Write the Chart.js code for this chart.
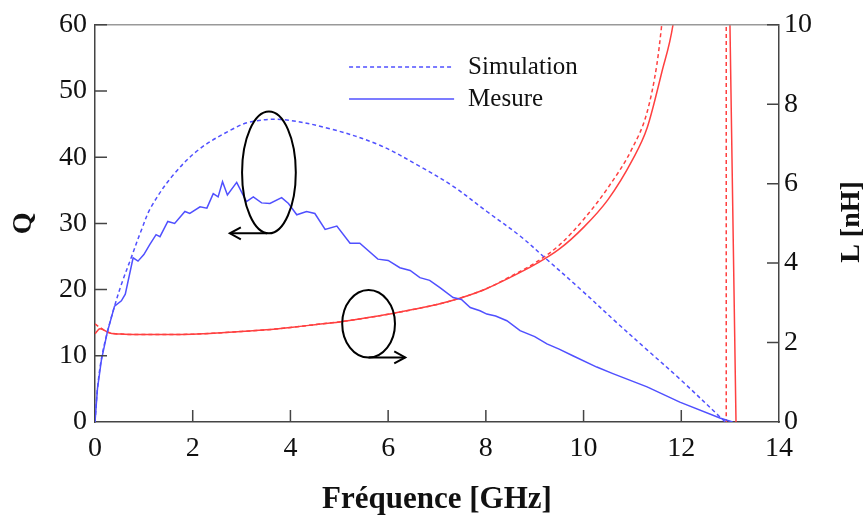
<!DOCTYPE html>
<html>
<head>
<meta charset="utf-8">
<script src="https://cdn.jsdelivr.net/npm/chart.js@4.4.1/dist/chart.umd.min.js"></script>
<style>
  html, body { margin: 0; padding: 0; background: #fff; }
  #wrap { width: 867px; height: 519px; }
</style>
</head>
<body>
<div id="wrap"><canvas id="c" width="867" height="519"></canvas></div>
<script>
// ---- Data ----
const freqSimQ = [0, 0.05, 0.13, 0.25, 0.4, 0.55, 0.74, 0.95, 1.15, 1.6, 2.15, 2.83, 3.17, 3.8, 4.81, 5.83, 6.65, 7.33, 8.02, 8.7, 9.21, 9.93, 10.68, 11.3, 11.97, 12.9];
const qSim     = [0, 5, 9.5, 13.5, 17.5, 21, 24.8, 29, 32.5, 37.3, 41.3, 44.3, 45.3, 45.7, 44.3, 41.8, 38.6, 35.6, 31.8, 28.1, 24.8, 20.1, 15.0, 10.9, 6.5, 0];

const freqMesQ = [0, 0.05, 0.13, 0.25, 0.4, 0.54, 0.62, 0.78, 0.88, 1.0, 1.12, 1.25, 1.33, 1.49, 1.63, 1.84, 1.94, 2.15, 2.29, 2.42, 2.52, 2.61, 2.71, 2.9, 3.1, 3.24, 3.41, 3.58, 3.82, 3.96, 4.13, 4.33, 4.5, 4.71, 4.95, 5.22, 5.42, 5.79, 6.0, 6.24, 6.45, 6.65, 6.85, 7.06, 7.33, 7.5, 7.68, 7.88, 8.02, 8.2, 8.43, 8.7, 9.0, 9.25, 9.5, 9.78, 10.27, 10.6, 11.3, 11.97, 12.79, 13.05];
const qMes     = [0, 5, 9.3, 13.5, 17.5, 18.3, 19.3, 24.8, 24.3, 25.3, 26.8, 28.3, 28.0, 30.3, 30.0, 31.8, 31.5, 32.5, 32.3, 34.5, 34.0, 36.3, 34.3, 36.2, 33.3, 34.0, 33.1, 33.0, 33.9, 33.0, 31.3, 31.8, 31.5, 29.1, 29.6, 27.0, 27.0, 24.6, 24.4, 23.3, 22.9, 21.8, 21.4, 20.3, 18.8, 18.5, 17.3, 16.8, 16.3, 16.0, 15.3, 13.8, 12.9, 11.8, 11.0, 10.0, 8.3, 7.3, 5.3, 3.0, 0.6, 0];

const freqSimL = [0, 0.1, 0.3, 0.6, 1, 1.5, 2, 2.5, 3, 3.5, 4, 4.5, 5, 5.5, 6, 6.5, 7, 7.5, 8, 8.5, 9, 9.5, 10, 10.5, 11, 11.3, 11.5, 11.6, 11.7, 12.3, 12.92, 12.92];
const lSim     = [2.47, 2.38, 2.25, 2.21, 2.2, 2.2, 2.21, 2.24, 2.28, 2.32, 2.38, 2.45, 2.52, 2.61, 2.71, 2.83, 2.96, 3.13, 3.35, 3.66, 4.0, 4.45, 5.1, 5.9, 6.9, 7.8, 9.0, 10.0, 11.2, null, 11, 0];

const freqMesL = [0, 0.1, 0.3, 0.6, 1, 1.5, 2, 2.5, 3, 3.5, 4, 4.5, 5, 5.5, 6, 6.5, 7, 7.5, 8, 8.5, 9, 9.5, 10, 10.5, 11, 11.3, 11.6, 11.83, 11.95, 12.4, 12.99, 13.12];
const lMes     = [2.22, 2.35, 2.24, 2.21, 2.2, 2.2, 2.21, 2.24, 2.28, 2.32, 2.38, 2.45, 2.52, 2.61, 2.71, 2.83, 2.96, 3.13, 3.35, 3.64, 3.96, 4.35, 4.9, 5.6, 6.6, 7.4, 8.8, 10.0, 11.2, null, 10.5, 0];

const xTicks  = [0, 2, 4, 6, 8, 10, 12, 14];
const qTicks  = [0, 10, 20, 30, 40, 50, 60];
const lTicks  = [0, 2, 4, 6, 8, 10];

const legendLabels = ['Simulation', 'Mesure'];
const xTitle = 'Fréquence [GHz]';
const qTitle = 'Q';
const lTitle = 'L [nH]';

const BLUE = '#5050ff';
const RED = '#ff4040';
const SERIF = '"Liberation Serif", "Times New Roman", serif';

const pts = (xs, ys) => xs.map((x, i) => ({ x: x, y: ys[i] }));

const decor = {
  id: 'decor',
  afterDraw(chart) {
    const { ctx, chartArea: ca, scales } = chart;
    const xs = scales.x, yq = scales.y, yl = scales.y1;
    ctx.save();
    // top frame
    ctx.strokeStyle = '#999';
    ctx.lineWidth = 1.5;
    ctx.beginPath(); ctx.moveTo(ca.left, ca.top); ctx.lineTo(ca.right, ca.top); ctx.stroke();
    // inward ticks
    ctx.strokeStyle = '#444';
    ctx.lineWidth = 1.5;
    ctx.beginPath();
    qTicks.forEach(v => { const y = yq.getPixelForValue(v); if (v > 0) { ctx.moveTo(ca.left, y); ctx.lineTo(ca.left + 12, y); } });
    lTicks.forEach(v => { const y = yl.getPixelForValue(v); if (v > 0) { ctx.moveTo(ca.right, y); ctx.lineTo(ca.right - 12, y); } });
    xTicks.forEach(v => { const x = xs.getPixelForValue(v); if (v > 0 && v < 14) { ctx.moveTo(x, ca.bottom); ctx.lineTo(x, ca.bottom - 12); } });
    ctx.stroke();

    // legend
    const lx0 = xs.getPixelForValue(5.2), lx1 = xs.getPixelForValue(7.35);
    const ly = [67, 99];
    ctx.strokeStyle = BLUE; ctx.lineWidth = 1.5;
    ctx.setLineDash([4, 3]);
    ctx.beginPath(); ctx.moveTo(lx0, ly[0]); ctx.lineTo(lx1, ly[0]); ctx.stroke();
    ctx.setLineDash([]);
    ctx.beginPath(); ctx.moveTo(lx0, ly[1]); ctx.lineTo(lx1, ly[1]); ctx.stroke();
    ctx.fillStyle = '#111';
    ctx.font = '25px ' + SERIF;
    ctx.textAlign = 'left'; ctx.textBaseline = 'middle';
    ctx.fillText(legendLabels[0], lx1 + 14, ly[0]);
    ctx.fillText(legendLabels[1], lx1 + 14, ly[1]);

    // annotation ellipses + arrows
    ctx.strokeStyle = '#000'; ctx.lineWidth = 2;
    function ellipse(cx, cy, rx, ry) {
      ctx.beginPath(); ctx.ellipse(cx, cy, rx, ry, 0, 0, Math.PI * 2); ctx.stroke();
    }
    function arrow(x0, y0, x1, y1) {
      ctx.beginPath(); ctx.moveTo(x0, y0); ctx.lineTo(x1, y1); ctx.stroke();
      const d = Math.sign(x1 - x0);
      ctx.beginPath(); ctx.moveTo(x1 - d * 11, y1 - 6); ctx.lineTo(x1, y1); ctx.lineTo(x1 - d * 11, y1 + 6); ctx.stroke();
    }
    const e1x = xs.getPixelForValue(3.56), e1y = yq.getPixelForValue(37.7);
    const e1rx = xs.getPixelForValue(3.56 + 0.55) - e1x, e1ry = e1y - yq.getPixelForValue(37.7 + 9.2);
    ellipse(e1x, e1y, e1rx, e1ry);
    arrow(e1x - 2, e1y + e1ry, xs.getPixelForValue(2.76), e1y + e1ry);
    const e2x = xs.getPixelForValue(5.6), e2y = yl.getPixelForValue(2.475);
    const e2rx = xs.getPixelForValue(5.6 + 0.54) - e2x, e2ry = e2y - yl.getPixelForValue(2.475 + 0.85);
    ellipse(e2x, e2y, e2rx, e2ry);
    arrow(e2x, e2y + e2ry, xs.getPixelForValue(6.35), e2y + e2ry);

    // right axis title (reads bottom-to-top)
    ctx.fillStyle = '#111';
    ctx.font = 'bold 28px ' + SERIF;
    ctx.textAlign = 'center'; ctx.textBaseline = 'middle';
    ctx.translate(852, 222);
    ctx.rotate(-Math.PI / 2);
    ctx.fillText(lTitle, 0, 0);
    ctx.restore();
  }
};

new Chart(document.getElementById('c'), {
  type: 'line',
  data: {
    datasets: [
      { label: legendLabels[0], data: pts(freqSimQ, qSim), yAxisID: 'y', borderColor: BLUE, borderWidth: 1.5, borderDash: [4, 3], tension: 0.35, pointRadius: 0, fill: false },
      { label: legendLabels[1], data: pts(freqMesQ, qMes), yAxisID: 'y', borderColor: BLUE, borderWidth: 1.5, tension: 0, pointRadius: 0, fill: false },
      { label: 'L sim', data: pts(freqSimL, lSim), yAxisID: 'y1', borderColor: RED, borderWidth: 1.5, borderDash: [4, 3], cubicInterpolationMode: 'monotone', pointRadius: 0, fill: false, spanGaps: false },
      { label: 'L mes', data: pts(freqMesL, lMes), yAxisID: 'y1', borderColor: RED, borderWidth: 1.5, cubicInterpolationMode: 'monotone', pointRadius: 0, fill: false, spanGaps: false }
    ]
  },
  options: {
    responsive: false,
    animation: false,
    layout: { padding: { top: 22, left: 0, right: 0, bottom: 0 } },
    plugins: { legend: { display: false }, tooltip: { enabled: false } },
    scales: {
      x: {
        type: 'linear', min: 0, max: 14,
        afterBuildTicks: s => { s.ticks = xTicks.map(v => ({ value: v })); },
        afterFit: s => { s.height = 97; },
        grid: { display: false, drawTicks: false },
        border: { display: true, color: '#444', width: 1.5 },
        ticks: { padding: 10, color: '#111', font: { family: SERIF, size: 28 }, autoSkip: false, maxRotation: 0 },
        title: { display: true, text: xTitle, color: '#111', font: { family: SERIF, size: 31, weight: 'bold' }, padding: { top: 0, bottom: 0 } }
      },
      y: {
        type: 'linear', position: 'left', min: 0, max: 60,
        afterBuildTicks: s => { s.ticks = qTicks.map(v => ({ value: v })); },
        afterFit: s => { s.width = 95; },
        grid: { display: false, drawTicks: false },
        border: { display: true, color: '#444', width: 1.5 },
        ticks: { padding: 8, color: '#111', font: { family: SERIF, size: 28 }, autoSkip: false },
        title: { display: true, text: qTitle, color: '#111', font: { family: SERIF, size: 28, weight: 'bold' }, padding: { top: 7, bottom: 0 } }
      },
      y1: {
        type: 'linear', position: 'right', min: 0, max: 10,
        afterBuildTicks: s => { s.ticks = lTicks.map(v => ({ value: v })); },
        afterFit: s => { s.width = 88; },
        grid: { display: false, drawTicks: false },
        border: { display: true, color: '#444', width: 1.5 },
        ticks: { padding: 5, color: '#111', font: { family: SERIF, size: 28 }, autoSkip: false }
      }
    }
  },
  plugins: [decor]
});
</script>
</body>
</html>
